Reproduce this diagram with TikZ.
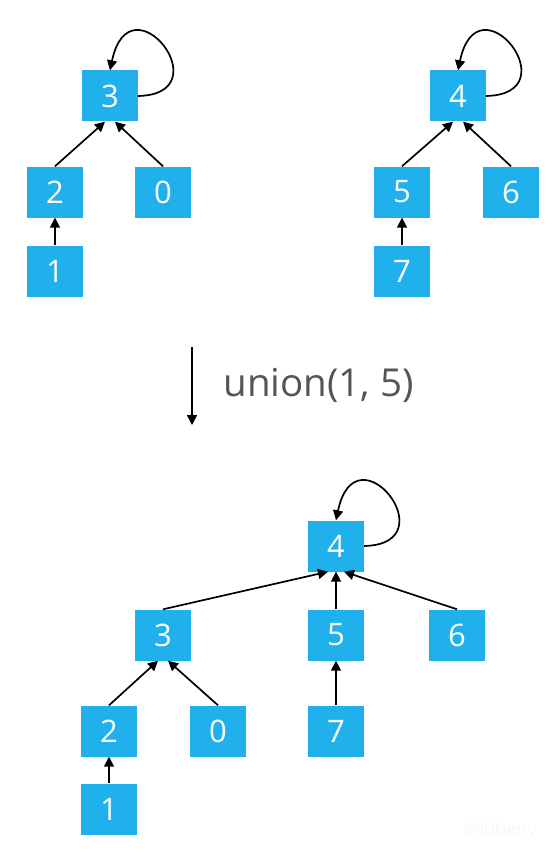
\documentclass[tikz,border=0pt]{standalone}
\usepackage{fontspec}
\setmainfont{Open Sans}
\usetikzlibrary{arrows.meta,calc}
\definecolor{boxblue}{HTML}{20B1EC}
\definecolor{labgray}{HTML}{555555}
\begin{document}
\begin{tikzpicture}[x=1pt,y=-1pt,
  nd/.style={fill=boxblue, minimum width=56pt, minimum height=51pt, inner sep=0pt, text=white, font=\fontsize{31}{31}\selectfont},
  arr/.style={-{Triangle[length=10pt,width=10pt]}, line width=1.7pt, black},
  loopstyle/.style={arr}]
\useasboundingbox (0,0) rectangle (556,856);
% top-left tree
\node[nd] (a3) at (110,96) {3};
\node[nd] (a2) at (55,192) {2};
\node[nd] (a0) at (163,192) {0};
\node[nd] (a1) at (55,271) {1};
\draw[arr] (a2.north) -- ($(a3.south)+(-5,0)$);
\draw[arr] (a0.north) -- ($(a3.south)+(5,0)$);
\draw[arr] (a1.north) -- (a2.south);
\draw[loopstyle] (a3.east) .. controls +(85,-2) and +(20,-95) .. (a3.north);
% top-right tree
\node[nd] (b4) at (458,96) {4};
\node[nd] (b5) at (402,192) {5};
\node[nd] (b6) at (511,192) {6};
\node[nd] (b7) at (402,271) {7};
\draw[arr] (b5.north) -- ($(b4.south)+(-5,0)$);
\draw[arr] (b6.north) -- ($(b4.south)+(5,0)$);
\draw[arr] (b7.north) -- (b5.south);
\draw[loopstyle] (b4.east) .. controls +(85,-2) and +(20,-95) .. (b4.north);
% operation
\coordinate (ua) at (192,347);
\coordinate (ub) at (192,425);
\draw[arr] (ua) -- (ub);
\node[text=labgray, font=\fontsize{38.5}{38.5}\selectfont, anchor=west] (lab) at (220,385) {union(1, 5)};
% bottom tree
\node[nd] (c4) at (336,546) {4};
\node[nd] (c3) at (163,635) {3};
\node[nd] (c5) at (336,635) {5};
\node[nd] (c6) at (457,635) {6};
\node[nd] (c2) at (109,731) {2};
\node[nd] (c0) at (218,731) {0};
\node[nd] (c7) at (336,731) {7};
\node[nd] (c1) at (109,809) {1};
\draw[arr] (c3.north) -- ($(c4.south)+(-8,0)$);
\draw[arr] (c5.north) -- (c4.south);
\draw[arr] (c6.north) -- ($(c4.south)+(8,0)$);
\draw[arr] (c2.north) -- ($(c3.south)+(-5,0)$);
\draw[arr] (c0.north) -- ($(c3.south)+(5,0)$);
\draw[arr] (c7.north) -- (c5.south);
\draw[arr] (c1.north) -- (c2.south);
\draw[loopstyle] (c4.east) .. controls +(85,-2) and +(20,-95) .. (c4.north);
% watermark
\node[text=black!3, font=\fontsize{18}{18}\selectfont] (wm) at (500,831) {@idbeny};
\end{tikzpicture}
\end{document}
